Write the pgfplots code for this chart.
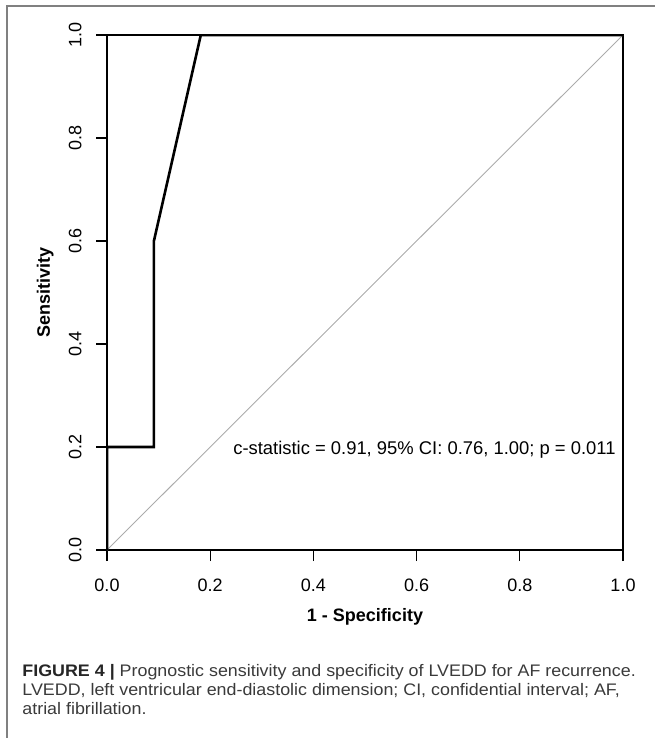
\documentclass[border=0pt]{standalone}
\usepackage{pgfplots}
\pgfplotsset{compat=1.18}
\usepackage{fontspec}
\setmainfont{Liberation Sans}
\newfontfamily\capfont[FakeStretch=1.07]{Liberation Sans}
\usepackage{graphicx}
\definecolor{frame}{HTML}{808080}
\definecolor{diag}{HTML}{ABABAB}
\definecolor{captxt}{HTML}{3A3A3A}

\begin{document}
\begin{tikzpicture}
% page is 655x738 px, 1 px = 0.5pt, y downwards
\path[use as bounding box] (0,0) rectangle (327.5pt,-369pt);
\draw[frame,line width=0.75pt] (3.5pt,-369pt) -- (3.5pt,-3pt) -- (327.5pt,-3pt);
\begin{axis}[
  at={(53.5pt,-275pt)},anchor=south west,
  scale only axis,width=258pt,height=257.5pt,
  xmin=0,xmax=1,ymin=0,ymax=1,
  axis line style={line width=0.65pt},
  tick align=outside,xtick pos=left,ytick pos=left,
  major tick length=5.5pt,
  every tick/.style={black,line width=0.65pt},
  xtick={0,0.2,0.4,0.6,0.8,1},ytick={0,0.2,0.4,0.6,0.8,1},
  font=\fontsize{9pt}{10pt}\selectfont,
  /pgf/number format/assume math mode=true,
  xticklabel={\pgfmathprintnumber[fixed,fixed zerofill,precision=1]{\tick}},
  yticklabel={\rotatebox{90}{\pgfmathprintnumber[fixed,fixed zerofill,precision=1]{\tick}}},
  xticklabel style={anchor=base,inner sep=0pt,yshift=-15pt},
  yticklabel style={anchor=east,inner sep=0pt,xshift=-7pt},
  xlabel={\textbf{1 - Specificity}},
  ylabel={\textbf{Sensitivity}},
  xlabel style={at={(axis description cs:0.5,-0.1379)},anchor=base,inner sep=0pt},
  ylabel style={at={(axis description cs:-0.1199,0.5)},anchor=center,inner sep=0pt},
]
\addplot[diag,line width=0.45pt] coordinates {(0,0)(1,1)};
\addplot[black,line width=1.3pt] coordinates {(0,0)(0,0.2)(0.0909,0.2)(0.0909,0.6)(0.1818,1)(1,1)};
\node[anchor=base west,inner sep=0pt,font=\fontsize{9.2pt}{11pt}\selectfont] at (axis cs:0.244,0.186) {c-statistic = 0.91, 95\% CI: 0.76, 1.00; p = 0.011};
\end{axis}
\begin{scope}[font=\capfont,text=captxt]
\node[anchor=base west,inner sep=0pt] at (11pt,-338pt) {\fontsize{8.35pt}{9.5pt}\selectfont\textbf{\color{black!85}FIGURE 4 |} Prognostic sensitivity and specificity of LVEDD for AF recurrence.};
\node[anchor=base west,inner sep=0pt] at (11pt,-347.5pt) {\fontsize{8.35pt}{9.5pt}\selectfont LVEDD, left ventricular end-diastolic dimension; CI, confidential interval; AF,};
\node[anchor=base west,inner sep=0pt] at (11pt,-357pt) {\fontsize{8.35pt}{9.5pt}\selectfont atrial fibrillation.};
\end{scope}
\end{tikzpicture}
\end{document}
